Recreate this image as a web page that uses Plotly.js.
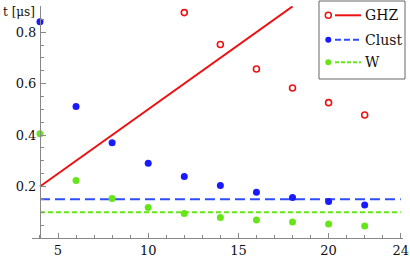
<!DOCTYPE html>
<html><head><meta charset="utf-8">
<script src="https://cdn.plot.ly/plotly-3.0.1.min.js"></script>
<style>html,body{margin:0;padding:0;background:#fff}#c{width:410px;height:258px}</style>
</head><body><div id="c"></div>
<script>
// ---- data ----
const nAll = [4, 6, 8, 10, 12, 14, 16, 18, 20, 22];
const nGHZ = [12, 14, 16, 18, 20, 22];
const tGHZ = [0.876, 0.752, 0.657, 0.583, 0.526, 0.478];
const tClust = [0.840, 0.511, 0.370, 0.291, 0.239, 0.204, 0.178, 0.157, 0.142, 0.128];
const tW = [0.405, 0.223, 0.154, 0.119, 0.095, 0.080, 0.070, 0.062, 0.054, 0.047];
const ghzLineX = [4, 18];
const ghzLineY = [0.2, 0.9];
const flatX = [4, 24];
const clustLevel = 0.151;
const wLevel = 0.1;
const xTickVals = [5, 10, 15, 20, 24];
const xTickText = ['5', '10', '15', '20', '24'];
const yTickVals = [0.2, 0.4, 0.6, 0.8];
const yTickText = ['0.2', '0.4', '0.6', '0.8'];
const legendNames = ['GHZ', 'Clust', 'W'];

// ---- styles ----
const RED = '#ee1111', BLUE = '#1a1aff', BLUEL = '#2f4dff', GREEN = '#66e619';
const FONT = 'DejaVu Serif';
const W = 410, H = 258, M = {l: 32, r: 7, t: 6, b: 20};
const pw = W - M.l - M.r, ph = H - M.t - M.b;
const fx = p => (p - M.l) / pw;
const fy = p => (H - M.b - p) / ph;
const x4px = 39.96, xs = 18.04;
const xr = [4 - (x4px - M.l) / xs, 4 + (W - M.r - x4px) / xs];
const yr = [0, ph / 257.3];

const traces = [
  {x: ghzLineX, y: ghzLineY, mode: 'lines', line: {color: RED, width: 2}, hoverinfo: 'skip'},
  {x: flatX, y: flatX.map(() => clustLevel), mode: 'lines', line: {color: BLUEL, width: 2, dash: '10px,5px'}},
  {x: flatX, y: flatX.map(() => wLevel), mode: 'lines', line: {color: GREEN, width: 2, dash: '5px,3px'}},
  {x: nGHZ, y: tGHZ, mode: 'markers', marker: {symbol: 'circle-open', size: 6, color: RED, line: {width: 1.6, color: RED}}, cliponaxis: false},
  {x: nAll, y: tClust, mode: 'markers', marker: {symbol: 'circle', size: 7, color: BLUE}, cliponaxis: false},
  {x: nAll, y: tW, mode: 'markers', marker: {symbol: 'circle', size: 7, color: GREEN}, cliponaxis: false}
];

// custom legend (marker + line + label)
const legColors = [RED, BLUEL, GREEN];
const legDash = ['solid', '6px,3px', '4px,2px'];
const rowsY = [15.3, 39.7, 62.3];
const shapes = [
  {type: 'rect', xref: 'paper', yref: 'paper', x0: fx(319), x1: fx(405), y0: fy(79), y1: fy(1),
   line: {color: '#666', width: 1}, fillcolor: '#fff', layer: 'above'}
];
const annotations = [
  {xref: 'paper', yref: 'paper', x: fx(1), y: fy(12), xanchor: 'left', yanchor: 'middle',
   text: 't [μs]', showarrow: false, font: {family: FONT, size: 12, color: '#111'}}
];
legendNames.forEach((nm, i) => {
  const y = rowsY[i];
  shapes.push({type: 'line', xref: 'paper', yref: 'paper', x0: fx(335), x1: fx(361), y0: fy(y), y1: fy(y),
    line: {color: legColors[i], width: 2, dash: legDash[i]}, layer: 'above'});
  shapes.push({type: 'circle', xref: 'paper', yref: 'paper', xsizemode: 'pixel', ysizemode: 'pixel',
    xanchor: fx(328.3), yanchor: fy(y), x0: -3, x1: 3, y0: -3, y1: 3,
    line: {color: i === 0 ? RED : (i === 1 ? BLUE : GREEN), width: i === 0 ? 1.5 : 0},
    fillcolor: i === 0 ? 'rgba(0,0,0,0)' : (i === 1 ? BLUE : GREEN), layer: 'above'});
  annotations.push({xref: 'paper', yref: 'paper', x: fx(363), y: fy(y), xanchor: 'left', yanchor: 'middle',
    text: nm, showarrow: false, font: {family: FONT, size: 14, color: '#111'}});
});

const layout = {
  width: W, height: H, margin: M, showlegend: false,
  paper_bgcolor: '#fff', plot_bgcolor: '#fff',
  font: {family: FONT, size: 13, color: '#111'},
  xaxis: {range: xr, showgrid: false, zeroline: false, showline: true, linecolor: '#888', linewidth: 1,
    tickmode: 'array', tickvals: xTickVals, ticktext: xTickText, ticks: 'inside', ticklen: 5, tickcolor: '#888',
    minor: {tickmode: 'linear', tick0: 4, dtick: 1, ticks: 'inside', ticklen: 3, tickcolor: '#888', showgrid: false},
    tickfont: {family: FONT, size: 13, color: '#111'}, ticklabelstandoff: 0},
  yaxis: {range: yr, showgrid: false, zeroline: false, showline: true, linecolor: '#888', linewidth: 1,
    anchor: 'free', position: fx(x4px),
    tickmode: 'array', tickvals: yTickVals, ticktext: yTickText, ticks: 'inside', ticklen: 5, tickcolor: '#888',
    minor: {tickmode: 'linear', tick0: 0, dtick: 0.05, ticks: 'inside', ticklen: 3, tickcolor: '#888', showgrid: false},
    tickfont: {family: FONT, size: 13, color: '#111'}, ticklabelstandoff: 1},
  shapes: shapes, annotations: annotations
};
Plotly.newPlot('c', traces, layout, {staticPlot: true, displayModeBar: false});
</script></body></html>
